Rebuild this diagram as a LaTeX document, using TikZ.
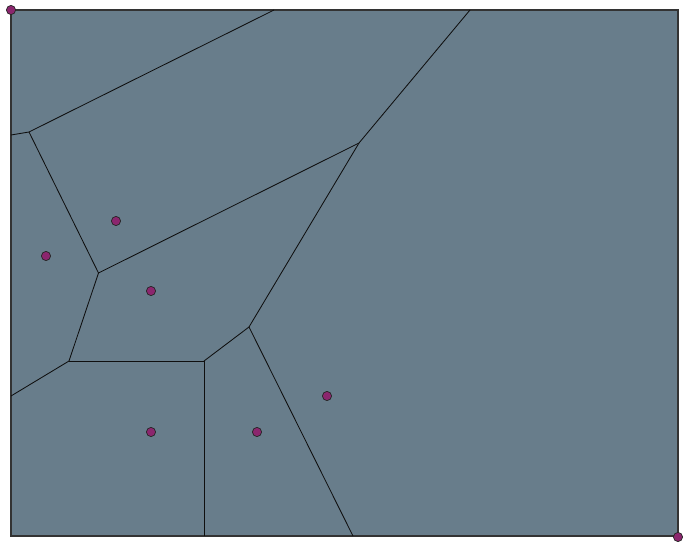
\documentclass[tikz,border=0pt]{standalone}
\usetikzlibrary{calc}
\definecolor{cCell}{RGB}{104,125,139}
\definecolor{cSite}{RGB}{139,38,110}
\definecolor{cEdge}{RGB}{15,15,15}
\tikzset{
  %% region box
  FRAME/.style={draw=black!80, fill=cCell, line width=0.9pt},
  %% cell border
  E/.style={draw=cEdge, line width=0.6pt},
  %% generator point
  SITE/.style={circle, fill=cSite, draw=black!85, line width=0.5pt,
               inner sep=0pt, minimum size=0.23cm},
}
\begin{document}
\begin{tikzpicture}[x=0.025cm, y=-0.025cm]

\useasboundingbox (0,0) rectangle (692,546);

%% ════════════════════════════════
%%  FRAME  (pixel coordinates, y down)
%% ════════════════════════════════
\coordinate (tl) at (11,10);
\coordinate (br) at (678,536);
\draw[FRAME] (tl) rectangle (br);

%% ════════════════════════════════
%%  VORONOI VERTICES
%% ════════════════════════════════
\coordinate (v1) at (29,132);
\coordinate (v2) at (98.5,273);
\coordinate (v3) at (359,143);
\coordinate (v4) at (249,327);
\coordinate (v5) at (69,361);
\coordinate (v6) at (204,361);

%% border ends
\coordinate (bt1) at (274,10);
\coordinate (bt2) at (470,10);
\coordinate (bl1) at (11,135);
\coordinate (bl2) at (11,396);
\coordinate (bb1) at (204,536);
\coordinate (bb2) at (353,536);

%% ════════════════════════════════
%%  CELL EDGES
%% ════════════════════════════════
\draw[E] (bt1) -- (v1) -- (bl1);
\draw[E] (v1) -- (v2) -- (v3) -- (bt2);
\draw[E] (v3) -- (v4) -- (bb2);
\draw[E] (v2) -- (v5) -- (bl2);
\draw[E] (v5) -- (v6) -- (bb1);
\draw[E] (v6) -- (v4);

%% ════════════════════════════════
%%  SITES
%% ════════════════════════════════
\foreach \n/\x/\y in {
  sA/116/221, sB/46/256, sC/151/291, sD/151/432,
  sE/257/432, sF/327/396, sTL/11/10, sBR/678/537}
{
  \node[SITE] (\n) at (\x,\y) {};
}

\end{tikzpicture}
\end{document}
